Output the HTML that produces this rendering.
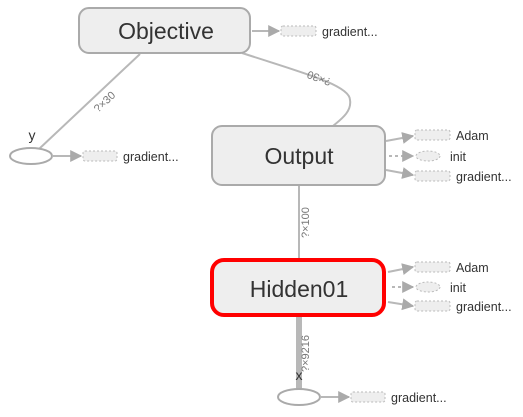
<!DOCTYPE html>
<html><head><meta charset="utf-8"><style>
html,body{margin:0;padding:0;background:#fff;}
svg{display:block;font-family:"Liberation Sans",sans-serif;}
.lbl{font-size:12.5px;fill:#333;}
.el{font-size:11px;fill:#777;}
.aux{fill:#eee;stroke:#bbb;stroke-dasharray:2,2;stroke-width:1;}
.e{stroke:#b8b8b8;stroke-width:2;fill:none;}
</style></head><body>
<svg width="523" height="417" viewBox="0 0 523 417" xmlns="http://www.w3.org/2000/svg">
<defs>
<marker id="ar" viewBox="0 0 10 10" refX="9" refY="5" markerWidth="6" markerHeight="6" orient="auto"><path d="M0,0L10,5L0,10z" fill="#aaa"/></marker>
</defs>
<path class="e" d="M140,54 L39,149"/>
<text class="el" transform="translate(98,113) rotate(-43)">?×30</text>
<path class="e" d="M242,53 C300,72 350,85 350,100 C352,112 340,120 333,126"/>
<text class="el" transform="translate(332,79) rotate(200)">?×30</text>
<path class="e" d="M299,185 L299,259"/>
<text class="el" transform="translate(309,238) rotate(-90)">?×100</text>
<path d="M299,315 L299,389" stroke="#b8b8b8" stroke-width="6"/>
<text class="el" transform="translate(309,372) rotate(-90)">?×9216</text>
<rect x="79" y="8" width="171" height="45" rx="10" fill="#eee" stroke="#aaa" stroke-width="2"/>
<text x="166" y="39" text-anchor="middle" font-size="23" fill="#333">Objective</text>
<rect x="212" y="126" width="173" height="59" rx="10" fill="#eee" stroke="#aaa" stroke-width="2"/>
<text x="299" y="164" text-anchor="middle" font-size="23" fill="#333">Output</text>
<rect x="212" y="260" width="172" height="55" rx="12" fill="#eee" stroke="#f00" stroke-width="4"/>
<text x="299" y="297" text-anchor="middle" font-size="23" fill="#333">Hidden01</text>
<ellipse cx="31" cy="156" rx="21" ry="8" fill="#fff" stroke="#aaa" stroke-width="2"/>
<text x="32" y="140" text-anchor="middle" font-size="14" fill="#333">y</text>
<ellipse cx="299" cy="397" rx="21" ry="8" fill="#fff" stroke="#aaa" stroke-width="2"/>
<text x="299" y="380" text-anchor="middle" font-size="14" fill="#333">x</text>
<path class="e" d="M252,31 L279,31" marker-end="url(#ar)"/>
<rect class="aux" x="281" y="26" width="35" height="10" rx="2"/>
<text class="lbl" x="322" y="36">gradient...</text>
<path class="e" d="M52,156 L81,156" marker-end="url(#ar)"/>
<rect class="aux" x="83" y="151" width="34" height="10" rx="2"/>
<text class="lbl" x="123" y="161">gradient...</text>
<path class="e" d="M320,397 L349,397" marker-end="url(#ar)"/>
<rect class="aux" x="351" y="392" width="34" height="10" rx="2"/>
<text class="lbl" x="391" y="402">gradient...</text>
<path class="e" d="M386,141 L413,136" marker-end="url(#ar)"/>
<rect class="aux" x="415" y="130" width="35" height="10" rx="2"/>
<text class="lbl" x="456" y="140">Adam</text>
<path class="e" d="M389,156 L413,156" stroke-dasharray="3,3" marker-end="url(#ar)"/>
<ellipse class="aux" cx="428" cy="156" rx="12" ry="5"/>
<text class="lbl" x="450" y="161">init</text>
<path class="e" d="M386,170 L413,175" marker-end="url(#ar)"/>
<rect class="aux" x="415" y="171" width="35" height="10" rx="2"/>
<text class="lbl" x="456" y="181">gradient...</text>
<path class="e" d="M388,272 L413,267" marker-end="url(#ar)"/>
<rect class="aux" x="415" y="262" width="35" height="10" rx="2"/>
<text class="lbl" x="456" y="272">Adam</text>
<path class="e" d="M392,287 L413,287" stroke-dasharray="3,3" marker-end="url(#ar)"/>
<ellipse class="aux" cx="428" cy="287" rx="12" ry="5"/>
<text class="lbl" x="450" y="292">init</text>
<path class="e" d="M388,302 L413,306" marker-end="url(#ar)"/>
<rect class="aux" x="415" y="301" width="35" height="10" rx="2"/>
<text class="lbl" x="456" y="311">gradient...</text>
</svg>
</body></html>
